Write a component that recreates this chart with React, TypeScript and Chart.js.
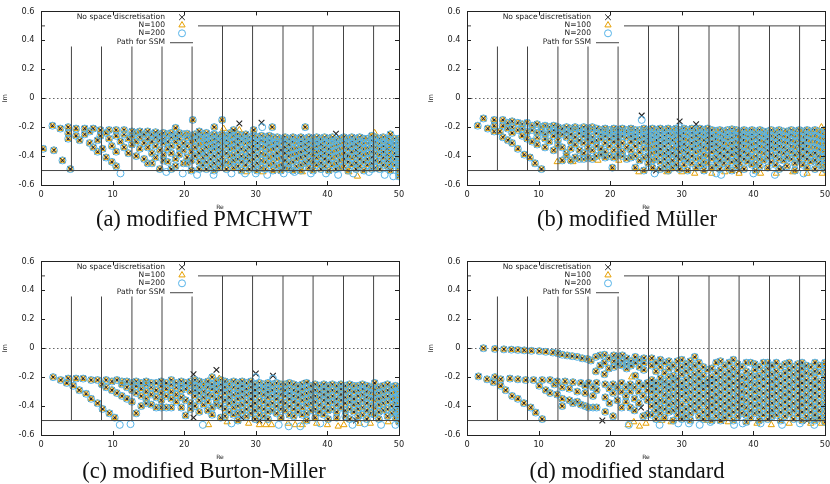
import { useEffect, useRef } from 'react';
import { Chart, registerables } from 'chart.js';
import { drawPoint } from 'chart.js/helpers';

Chart.register(...registerables);

// each column: [Re, Im, Im, ...]
type Col = number[];
type Pt = { x: number; y: number | null };

const xTickValues = [0, 10, 20, 30, 40, 50];
const yTickValues = [-0.6, -0.4, -0.2, 0, 0.2, 0.4, 0.6];
const yTickLabels = ['-0.6', '-0.4', '-0.2', '0', '0.2', '0.4', '0.6'];

const seriesLabels = ['No space discretisation', 'N=100', 'N=200', 'Path for SSM'];
const captions = ['(a) modified PMCHWT', '(b) modified Müller', '(c) modified Burton-Miller', '(d) modified standard'];

// SSM integration path
const pathRe = [4.25, 8.45, 12.7, 16.9, 21.1, 25.35, 29.55, 33.8, 38.0, 42.25, 46.45];
const pathTop = [0.36, 0.36, 0.36, 0.36, 0.36, 0.5, 0.5, 0.5, 0.5, 0.5, 0.5];
const pathBottom = -0.5;
const pathCeil = 0.5;

// ---------- (a) modified PMCHWT ----------
const aLeft: Col[] = [
  [0.3, -0.35], [1.6, -0.19], [1.8, -0.36], [2.7, -0.21], [3.0, -0.43],
  [3.8, -0.2, -0.24, -0.28], [4.1, -0.49], [4.9, -0.21, -0.26], [5.4, -0.29],
  [6.1, -0.21, -0.25], [6.8, -0.23, -0.31], [7.3, -0.21, -0.34], [7.9, -0.29, -0.37],
  [8.3, -0.22, -0.26], [8.6, -0.35], [9.1, -0.24, -0.41], [9.5, -0.22, -0.28],
  [9.9, -0.33, -0.44], [10.5, -0.22, -0.26, -0.37, -0.47], [11.1, -0.3],
  [11.6, -0.22, -0.25, -0.34], [12.2, -0.28, -0.38], [12.7, -0.23, -0.26, -0.32],
  [13.3, -0.24, -0.3, -0.4], [13.8, -0.23, -0.27, -0.35], [14.4, -0.25, -0.31, -0.42],
  [14.9, -0.23, -0.28, -0.34, -0.45], [15.5, -0.25, -0.3, -0.38, -0.45],
  [16.0, -0.235, -0.27, -0.33, -0.41], [16.6, -0.25, -0.29, -0.36, -0.49],
  [17.1, -0.24, -0.28, -0.31, -0.39, -0.43], [17.7, -0.25, -0.3, -0.35, -0.44],
  [18.2, -0.24, -0.27, -0.33, -0.38, -0.49], [18.8, -0.205, -0.26, -0.3, -0.42, -0.47],
  [19.3, -0.24, -0.28, -0.34, -0.39], [19.9, -0.25, -0.31, -0.36, -0.45],
  [20.4, -0.245, -0.27, -0.33, -0.41, -0.45], [21.0, -0.26, -0.3, -0.37, -0.43, -0.5],
  [21.2, -0.15], [21.5, -0.25, -0.29, -0.34, -0.4], [22.1, -0.23, -0.27, -0.32, -0.38, -0.44, -0.49],
];
const aRight: Col[] = [
  [22.6, -0.25, -0.28, -0.31, -0.36, -0.41, -0.46],
  [23.1, -0.24, -0.27, -0.3, -0.34, -0.39, -0.44, -0.49],
  [23.7, -0.26, -0.29, -0.33, -0.37, -0.42, -0.47],
  [24.2, -0.2, -0.25, -0.28, -0.32, -0.35, -0.4, -0.45, -0.5],
  [24.8, -0.26, -0.3, -0.34, -0.38, -0.43, -0.48],
  [25.3, -0.15, -0.25, -0.28, -0.31, -0.36, -0.41, -0.46],
  [25.9, -0.26, -0.29, -0.33, -0.38, -0.44, -0.49],
  [26.4, -0.24, -0.27, -0.31, -0.35, -0.4, -0.45],
  [26.9, -0.22, -0.26, -0.3, -0.34, -0.39, -0.43, -0.48],
  [27.5, -0.25, -0.28, -0.32, -0.37, -0.42, -0.47],
  [28.0, -0.26, -0.3, -0.35, -0.4, -0.44, -0.5],
  [28.6, -0.25, -0.28, -0.31, -0.36, -0.41, -0.46],
  [29.1, -0.27, -0.3, -0.34, -0.39, -0.43, -0.49],
  [29.7, -0.22, -0.26, -0.29, -0.33, -0.37, -0.42, -0.47],
  [30.2, -0.27, -0.31, -0.35, -0.4, -0.45, -0.5],
  [30.8, -0.26, -0.29, -0.33, -0.38, -0.43, -0.48],
  [31.3, -0.27, -0.3, -0.34, -0.39, -0.44, -0.49],
  [31.9, -0.26, -0.29, -0.32, -0.36, -0.41, -0.46],
  [32.3, -0.2],
  [32.4, -0.27, -0.31, -0.35, -0.4, -0.45, -0.5],
  [33.0, -0.27, -0.3, -0.33, -0.38, -0.42, -0.47],
  [33.5, -0.28, -0.31, -0.36, -0.41, -0.46, -0.5],
  [34.1, -0.27, -0.3, -0.34, -0.38, -0.43, -0.48],
  [34.6, -0.28, -0.32, -0.36, -0.4, -0.45, -0.49],
  [35.2, -0.27, -0.3, -0.35, -0.39, -0.44, -0.5],
  [35.7, -0.28, -0.31, -0.34, -0.38, -0.42, -0.47],
  [36.3, -0.27, -0.3, -0.33, -0.37, -0.41, -0.46, -0.5],
  [36.9, -0.2, -0.28, -0.32, -0.36, -0.4, -0.45],
  [37.4, -0.27, -0.3, -0.34, -0.38, -0.43, -0.48],
  [38.0, -0.28, -0.31, -0.35, -0.39, -0.44, -0.5],
  [38.5, -0.27, -0.3, -0.33, -0.37, -0.41, -0.46],
  [39.1, -0.28, -0.32, -0.36, -0.4, -0.45, -0.49],
  [39.6, -0.27, -0.3, -0.34, -0.38, -0.42, -0.47],
  [40.2, -0.28, -0.31, -0.35, -0.39, -0.44, -0.5],
  [40.7, -0.27, -0.3, -0.33, -0.37, -0.41, -0.46],
  [41.2, -0.29, -0.32, -0.36, -0.4, -0.45, -0.49],
  [41.8, -0.28, -0.31, -0.35, -0.39, -0.43, -0.48],
  [42.3, -0.27, -0.3, -0.34, -0.38, -0.42, -0.47],
  [42.9, -0.28, -0.31, -0.35, -0.4, -0.44, -0.5],
  [43.4, -0.27, -0.3, -0.33, -0.37, -0.41, -0.46],
  [44.0, -0.28, -0.32, -0.36, -0.4, -0.45, -0.49],
  [44.5, -0.27, -0.3, -0.34, -0.38, -0.42, -0.47],
  [45.1, -0.28, -0.31, -0.35, -0.39, -0.44, -0.5],
  [45.6, -0.28, -0.31, -0.34, -0.38, -0.42, -0.46],
  [46.2, -0.26, -0.29, -0.33, -0.37, -0.41, -0.45, -0.49],
  [46.7, -0.27, -0.3, -0.34, -0.38, -0.43, -0.48],
  [47.3, -0.28, -0.31, -0.35, -0.39, -0.44, -0.49],
  [47.8, -0.27, -0.3, -0.33, -0.37, -0.41, -0.46],
  [48.4, -0.28, -0.31, -0.35, -0.39, -0.43, -0.47],
  [48.8, -0.25, -0.29, -0.33, -0.37, -0.41, -0.45, -0.5],
  [49.4, -0.28, -0.31, -0.34, -0.38, -0.42, -0.46],
  [50.0, -0.28, -0.3, -0.32, -0.34, -0.36, -0.38, -0.4, -0.42, -0.44, -0.46, -0.48, -0.5, -0.52, -0.54],
];
const aCrossOnly: Col[] = [[27.7, -0.175], [30.8, -0.17], [41.2, -0.245], [36.0, -0.39], [40.0, -0.43], [43.0, -0.4], [27.0, -0.23]];
const aTriOnly: Col[] = [[25.5, -0.21], [27.7, -0.22], [43.0, -0.51], [44.2, -0.54], [46.6, -0.24], [36.5, -0.51], [31.0, -0.51], [28.7, -0.51]];
const aCircOnly: Col[] = [
  [11.1, -0.52], [17.5, -0.51], [19.8, -0.52], [21.8, -0.53], [24.1, -0.53], [26.6, -0.52], [28.5, -0.52],
  [30.0, -0.52], [30.9, -0.2], [31.6, -0.53], [33.9, -0.52], [35.4, -0.51], [37.7, -0.52], [39.8, -0.52],
  [41.5, -0.53], [43.6, -0.52], [45.8, -0.51], [48.0, -0.53], [49.2, -0.54],
];

// ---------- (b) modified Müller ----------
const bLeft: Col[] = [
  [1.5, -0.19], [2.3, -0.14], [2.9, -0.21], [3.8, -0.15, -0.19, -0.23], [4.6, -0.23],
  [5.0, -0.15, -0.19, -0.27], [5.7, -0.17, -0.21, -0.29], [6.3, -0.16, -0.2, -0.24, -0.31],
  [7.1, -0.17, -0.22, -0.35], [7.7, -0.18, -0.21, -0.26], [8.0, -0.39], [8.4, -0.17, -0.23, -0.28],
  [8.8, -0.41], [9.1, -0.19, -0.22, -0.3], [9.5, -0.45], [9.8, -0.18, -0.24, -0.27, -0.32],
  [10.4, -0.2, -0.23, -0.49], [10.9, -0.19, -0.25, -0.28, -0.34], [11.5, -0.2, -0.23, -0.3],
  [12.1, -0.19, -0.22, -0.26, -0.36], [12.7, -0.2, -0.24, -0.29, -0.32],
  [13.3, -0.21, -0.25, -0.34, -0.43], [13.9, -0.2, -0.23, -0.27, -0.38, -0.4],
  [14.5, -0.21, -0.25, -0.3, -0.35, -0.43], [15.1, -0.2, -0.22, -0.27, -0.32, -0.41],
  [15.7, -0.21, -0.24, -0.29, -0.36, -0.42], [16.3, -0.2, -0.23, -0.26, -0.31, -0.38, -0.42],
  [16.9, -0.21, -0.25, -0.28, -0.34, -0.41], [17.5, -0.2, -0.22, -0.27, -0.3, -0.36, -0.42],
  [18.1, -0.21, -0.24, -0.29, -0.33, -0.4], [18.7, -0.22, -0.25, -0.28, -0.35, -0.39],
  [19.3, -0.21, -0.23, -0.26, -0.31, -0.37, -0.41], [19.9, -0.22, -0.24, -0.28, -0.33, -0.4],
  [20.3, -0.48], [20.5, -0.21, -0.23, -0.26, -0.3, -0.36, -0.41], [21.1, -0.22, -0.25, -0.28, -0.33, -0.39],
  [21.7, -0.21, -0.23, -0.26, -0.31, -0.37, -0.4], [22.3, -0.22, -0.24, -0.27, -0.34, -0.42],
  [22.9, -0.21, -0.23, -0.26, -0.3, -0.36, -0.41], [23.5, -0.22, -0.25, -0.28, -0.33, -0.4, -0.48],
  [24.1, -0.22, -0.24, -0.27, -0.31, -0.37, -0.43], [24.7, -0.21, -0.23, -0.26, -0.3, -0.35, -0.41, -0.5],
];
const bRight: Col[] = [
  [25.3, -0.22, -0.25, -0.28, -0.31, -0.35, -0.4, -0.45],
  [25.9, -0.21, -0.24, -0.27, -0.3, -0.34, -0.38, -0.43, -0.48],
  [26.4, -0.22, -0.25, -0.29, -0.33, -0.37, -0.42],
  [27.0, -0.21, -0.24, -0.27, -0.31, -0.35, -0.39, -0.44, -0.49],
  [27.6, -0.22, -0.26, -0.29, -0.33, -0.38, -0.42, -0.47],
  [28.1, -0.21, -0.24, -0.28, -0.31, -0.36, -0.4, -0.45, -0.5],
  [28.7, -0.22, -0.25, -0.29, -0.34, -0.38, -0.43, -0.48],
  [29.2, -0.21, -0.24, -0.27, -0.31, -0.35, -0.4, -0.46],
  [29.7, -0.22, -0.26, -0.3, -0.33, -0.37, -0.42, -0.49],
  [30.3, -0.21, -0.24, -0.28, -0.32, -0.36, -0.41, -0.46],
  [30.8, -0.22, -0.25, -0.29, -0.34, -0.38, -0.43, -0.5],
  [31.4, -0.21, -0.24, -0.27, -0.31, -0.35, -0.4, -0.45],
  [32.0, -0.22, -0.26, -0.3, -0.33, -0.37, -0.42, -0.48],
  [32.5, -0.21, -0.24, -0.28, -0.32, -0.36, -0.41, -0.46],
  [33.1, -0.22, -0.25, -0.29, -0.34, -0.39, -0.44, -0.5],
  [33.6, -0.21, -0.24, -0.27, -0.31, -0.35, -0.4, -0.45],
  [34.2, -0.22, -0.26, -0.3, -0.33, -0.37, -0.42, -0.48],
  [34.8, -0.225, -0.25, -0.28, -0.32, -0.36, -0.41, -0.46],
  [35.3, -0.22, -0.26, -0.29, -0.34, -0.38, -0.43, -0.49],
  [35.9, -0.23, -0.27, -0.31, -0.35, -0.4, -0.45],
  [36.4, -0.22, -0.25, -0.28, -0.32, -0.37, -0.42, -0.48],
  [37.0, -0.215, -0.24, -0.27, -0.31, -0.35, -0.39, -0.44, -0.5],
  [37.6, -0.22, -0.26, -0.3, -0.34, -0.38, -0.43, -0.47],
  [38.1, -0.23, -0.27, -0.31, -0.36, -0.4, -0.45],
  [38.7, -0.22, -0.25, -0.29, -0.33, -0.37, -0.42, -0.49],
  [39.2, -0.23, -0.26, -0.3, -0.34, -0.39, -0.44],
  [39.8, -0.22, -0.25, -0.28, -0.32, -0.36, -0.41, -0.46],
  [40.3, -0.23, -0.27, -0.31, -0.35, -0.4, -0.45, -0.5],
  [40.9, -0.22, -0.25, -0.29, -0.33, -0.37, -0.42, -0.47],
  [41.4, -0.23, -0.26, -0.3, -0.34, -0.38, -0.43],
  [42.0, -0.23, -0.25, -0.28, -0.32, -0.36, -0.41, -0.48],
  [42.5, -0.22, -0.26, -0.3, -0.34, -0.39, -0.44],
  [43.1, -0.23, -0.27, -0.31, -0.35, -0.4, -0.46],
  [43.6, -0.22, -0.25, -0.29, -0.33, -0.37, -0.42, -0.49],
  [44.2, -0.23, -0.26, -0.3, -0.34, -0.38, -0.43],
  [44.7, -0.23, -0.27, -0.31, -0.36, -0.41, -0.47],
  [45.3, -0.22, -0.25, -0.29, -0.33, -0.37, -0.42],
  [45.8, -0.23, -0.26, -0.3, -0.34, -0.39, -0.45, -0.5],
  [46.4, -0.22, -0.26, -0.29, -0.33, -0.38, -0.43],
  [46.9, -0.23, -0.27, -0.31, -0.35, -0.4, -0.46],
  [47.5, -0.22, -0.25, -0.29, -0.33, -0.37, -0.42, -0.48],
  [48.0, -0.23, -0.26, -0.3, -0.34, -0.39, -0.44],
  [48.6, -0.22, -0.26, -0.3, -0.34, -0.38, -0.43, -0.49],
  [49.1, -0.23, -0.27, -0.31, -0.35, -0.4, -0.45],
  [49.6, -0.24, -0.28, -0.32, -0.36, -0.41, -0.47],
  [50.0, -0.22, -0.25, -0.28, -0.31, -0.34, -0.37, -0.4, -0.43, -0.46, -0.49],
];
const bCrossOnly: Col[] = [[24.4, -0.12], [29.7, -0.16], [32.0, -0.18], [26.4, -0.5], [33.0, -0.47], [38.0, -0.5], [44.0, -0.48]];
const bTriOnly: Col[] = [
  [12.6, -0.44], [14.8, -0.44], [18.3, -0.43], [21.2, -0.43], [24.0, -0.51], [27.9, -0.51], [30.0, -0.51],
  [31.8, -0.52], [34.2, -0.52], [36.0, -0.51], [38.0, -0.52], [41.0, -0.52], [43.2, -0.52], [45.5, -0.51],
  [47.5, -0.52], [49.6, -0.52], [49.5, -0.2],
];
const bCircOnly: Col[] = [[24.4, -0.15], [26.2, -0.52], [29.7, -0.2], [34.8, -0.52], [35.5, -0.53], [40.0, -0.52], [43.0, -0.53], [47.0, -0.52]];

// ---------- (c) modified Burton-Miller ----------
const cLeft: Col[] = [
  [1.7, -0.2], [2.75, -0.22], [3.6, -0.24], [3.8, -0.21], [4.5, -0.26], [4.9, -0.21], [5.35, -0.29],
  [5.9, -0.21], [6.3, -0.315], [7.0, -0.22, -0.35], [7.9, -0.22, -0.38], [8.5, -0.25], [8.6, -0.42],
  [9.1, -0.22, -0.27], [9.55, -0.45], [9.9, -0.23, -0.29], [10.3, -0.48], [10.6, -0.22, -0.31],
  [11.3, -0.23, -0.25, -0.33], [12.0, -0.23, -0.27, -0.35], [12.7, -0.24, -0.29, -0.37],
  [13.3, -0.23, -0.26, -0.31, -0.45], [14.0, -0.24, -0.28, -0.33, -0.4], [14.7, -0.23, -0.25, -0.3, -0.35, -0.38],
  [15.4, -0.24, -0.27, -0.32, -0.39], [16.1, -0.24, -0.29, -0.34, -0.41], [16.8, -0.23, -0.26, -0.31, -0.36, -0.41],
  [17.5, -0.24, -0.28, -0.33, -0.41], [18.2, -0.22, -0.25, -0.3, -0.35, -0.41], [18.9, -0.24, -0.27, -0.32, -0.37],
  [19.6, -0.23, -0.26, -0.29, -0.34, -0.41], [20.2, -0.24, -0.28, -0.36, -0.465], [20.9, -0.23, -0.25, -0.3, -0.38, -0.42],
  [21.5, -0.22, -0.26, -0.29, -0.33, -0.4], [22.1, -0.23, -0.27, -0.31, -0.36, -0.44], [22.7, -0.24, -0.26, -0.3, -0.34, -0.39],
  [23.3, -0.23, -0.27, -0.32, -0.37, -0.43], [23.9, -0.2, -0.25, -0.28, -0.33, -0.41, -0.46],
  [24.5, -0.23, -0.26, -0.3, -0.35, -0.39], [25.1, -0.22, -0.25, -0.29, -0.34, -0.4, -0.48],
];
const cRight: Col[] = [
  [25.7, -0.23, -0.27, -0.31, -0.36, -0.42, -0.47],
  [26.3, -0.24, -0.26, -0.3, -0.34, -0.38, -0.44],
  [26.9, -0.23, -0.27, -0.32, -0.37, -0.41, -0.46],
  [27.5, -0.24, -0.28, -0.31, -0.35, -0.4, -0.45, -0.5],
  [28.1, -0.23, -0.26, -0.3, -0.34, -0.39, -0.44],
  [28.7, -0.24, -0.28, -0.32, -0.37, -0.42, -0.47],
  [29.3, -0.23, -0.27, -0.31, -0.35, -0.4, -0.45],
  [29.9, -0.25, -0.29, -0.33, -0.38, -0.43, -0.49],
  [30.5, -0.24, -0.27, -0.31, -0.36, -0.41, -0.46],
  [31.1, -0.25, -0.28, -0.32, -0.37, -0.42, -0.47],
  [31.7, -0.24, -0.27, -0.3, -0.34, -0.39, -0.44, -0.49],
  [32.3, -0.25, -0.29, -0.33, -0.38, -0.43],
  [32.9, -0.24, -0.28, -0.31, -0.35, -0.4, -0.45],
  [33.5, -0.25, -0.28, -0.32, -0.37, -0.42, -0.48],
  [34.1, -0.25, -0.29, -0.33, -0.38, -0.43],
  [34.7, -0.24, -0.28, -0.31, -0.35, -0.4, -0.46],
  [35.3, -0.25, -0.29, -0.33, -0.37, -0.42, -0.47],
  [35.9, -0.26, -0.3, -0.34, -0.39, -0.44],
  [36.5, -0.25, -0.28, -0.32, -0.36, -0.41, -0.46],
  [37.1, -0.24, -0.27, -0.31, -0.35, -0.39, -0.45, -0.5],
  [37.7, -0.26, -0.3, -0.34, -0.38, -0.43],
  [38.3, -0.25, -0.29, -0.33, -0.37, -0.42, -0.48],
  [38.9, -0.26, -0.3, -0.34, -0.39, -0.44],
  [39.5, -0.25, -0.28, -0.32, -0.36, -0.41, -0.46],
  [40.1, -0.26, -0.3, -0.34, -0.38, -0.43, -0.49],
  [40.7, -0.25, -0.29, -0.33, -0.37, -0.42],
  [41.3, -0.26, -0.3, -0.35, -0.39, -0.44, -0.48],
  [41.9, -0.25, -0.28, -0.32, -0.36, -0.41],
  [42.5, -0.26, -0.3, -0.34, -0.38, -0.43, -0.47],
  [43.1, -0.25, -0.29, -0.33, -0.37, -0.42, -0.49],
  [43.7, -0.26, -0.3, -0.35, -0.39, -0.44],
  [44.3, -0.26, -0.29, -0.33, -0.38, -0.42, -0.47],
  [44.9, -0.25, -0.28, -0.32, -0.36, -0.41, -0.46],
  [45.5, -0.26, -0.3, -0.34, -0.38, -0.43, -0.49],
  [46.1, -0.27, -0.31, -0.35, -0.4, -0.45],
  [46.6, -0.24, -0.28, -0.32, -0.36, -0.41, -0.46],
  [47.2, -0.27, -0.31, -0.35, -0.39, -0.44, -0.49],
  [47.8, -0.26, -0.3, -0.34, -0.38, -0.43],
  [48.4, -0.25, -0.29, -0.33, -0.37, -0.42, -0.47],
  [49.0, -0.27, -0.31, -0.35, -0.4, -0.45],
  [49.5, -0.26, -0.3, -0.34, -0.38, -0.43, -0.48],
  [50.0, -0.27, -0.29, -0.31, -0.33, -0.35, -0.37, -0.39, -0.41, -0.43, -0.45, -0.47, -0.49, -0.51],
];
const cCrossOnly: Col[] = [[21.3, -0.18], [21.3, -0.48], [24.5, -0.15], [30.0, -0.175], [32.4, -0.19], [37.0, -0.24], [28.0, -0.48], [30.5, -0.5], [38.5, -0.45], [44.0, -0.5]];
const cTriOnly: Col[] = [
  [23.4, -0.53], [24.9, -0.21], [26.0, -0.51], [29.0, -0.52], [30.5, -0.53], [31.4, -0.53], [32.2, -0.53],
  [34.5, -0.52], [35.5, -0.53], [36.5, -0.53], [38.5, -0.52], [40.0, -0.53], [41.5, -0.54], [42.3, -0.53],
  [44.5, -0.52], [46.0, -0.52], [48.5, -0.51],
];
const cCircOnly: Col[] = [
  [11.0, -0.53], [12.5, -0.525], [22.6, -0.53], [26.6, -0.52], [30.0, -0.2], [32.4, -0.21], [33.2, -0.53],
  [34.6, -0.54], [36.2, -0.54], [39.0, -0.52], [43.5, -0.53], [45.2, -0.52], [47.5, -0.53], [49.5, -0.53],
];

// ---------- (d) modified standard ----------
const dTop: Col[] = [
  [2.3, 0.0], [3.9, -0.005], [5.15, -0.008], [6.2, -0.01], [7.1, -0.012], [8.0, -0.015], [9.0, -0.018],
  [10.1, -0.02], [11.0, -0.025], [12.0, -0.03], [12.7, -0.035], [13.3, -0.045], [14.0, -0.05], [14.7, -0.055],
  [15.4, -0.06], [16.1, -0.07], [16.8, -0.075], [17.3, -0.085], [18.0, -0.06, -0.16], [18.6, -0.05, -0.12],
  [19.2, -0.045, -0.1, -0.18], [19.8, -0.07, -0.14], [20.5, -0.05, -0.09, -0.13], [21.1, -0.06, -0.11],
  [21.7, -0.05, -0.09, -0.12], [22.3, -0.07, -0.11, -0.14], [22.9, -0.09, -0.12], [23.5, -0.06, -0.1, -0.19],
  [24.1, -0.08, -0.13], [24.7, -0.07, -0.1, -0.15],
];
const dLow: Col[] = [
  [1.6, -0.195], [2.8, -0.215], [3.7, -0.235], [3.9, -0.2], [4.7, -0.215, -0.26], [5.4, -0.29], [6.0, -0.21],
  [6.3, -0.33], [7.1, -0.215, -0.35], [7.95, -0.38], [8.2, -0.22], [8.9, -0.41], [9.3, -0.22], [9.6, -0.445],
  [10.1, -0.26], [10.5, -0.22, -0.49], [11.0, -0.29], [11.6, -0.22, -0.31], [12.2, -0.25], [12.6, -0.23, -0.32],
  [13.3, -0.27, -0.35, -0.4], [13.7, -0.23], [14.3, -0.28, -0.36], [14.8, -0.235, -0.38], [15.4, -0.3, -0.37],
  [15.9, -0.24, -0.39], [16.5, -0.26, -0.31, -0.4], [17.0, -0.24, -0.41], [17.6, -0.27, -0.33, -0.41],
  [18.1, -0.24, -0.29, -0.41], [19.3, -0.25, -0.34, -0.44], [19.9, -0.28, -0.38], [20.4, -0.25, -0.31, -0.47],
  [21.0, -0.27, -0.36], [21.6, -0.24, -0.3, -0.41], [22.2, -0.27, -0.33, -0.37], [22.8, -0.25, -0.3, -0.41],
  [23.4, -0.27, -0.35, -0.43], [24.0, -0.24, -0.3, -0.38], [24.6, -0.26, -0.33, -0.47], [25.2, -0.24, -0.29, -0.36, -0.46],
];
const dRight: Col[] = [
  [25.8, -0.07, -0.12, -0.22, -0.26, -0.3, -0.35, -0.4, -0.46],
  [26.4, -0.1, -0.16, -0.24, -0.28, -0.33, -0.38, -0.43, -0.49],
  [27.0, -0.08, -0.13, -0.21, -0.25, -0.3, -0.36, -0.41, -0.45],
  [27.6, -0.1, -0.17, -0.23, -0.27, -0.32, -0.37, -0.42, -0.48],
  [28.2, -0.09, -0.14, -0.2, -0.25, -0.29, -0.34, -0.39, -0.44],
  [28.8, -0.12, -0.19, -0.23, -0.28, -0.33, -0.38, -0.43, -0.5],
  [29.4, -0.09, -0.15, -0.21, -0.26, -0.31, -0.36, -0.41, -0.46],
  [30.0, -0.08, -0.13, -0.18, -0.24, -0.28, -0.33, -0.39, -0.44, -0.49],
  [30.6, -0.11, -0.16, -0.22, -0.27, -0.31, -0.36, -0.42, -0.47],
  [31.2, -0.09, -0.14, -0.2, -0.25, -0.3, -0.35, -0.4, -0.45, -0.5],
  [31.8, -0.06, -0.12, -0.18, -0.23, -0.28, -0.33, -0.38, -0.43],
  [32.4, -0.1, -0.16, -0.21, -0.26, -0.31, -0.36, -0.41, -0.47],
  [33.0, -0.13, -0.19, -0.24, -0.28, -0.33, -0.38, -0.44, -0.49],
  [33.6, -0.15, -0.22, -0.26, -0.31, -0.36, -0.41, -0.46],
  [34.2, -0.14, -0.2, -0.24, -0.29, -0.34, -0.39, -0.44, -0.5],
  [34.8, -0.1, -0.17, -0.22, -0.27, -0.32, -0.37, -0.42, -0.47],
  [35.4, -0.09, -0.15, -0.2, -0.25, -0.3, -0.35, -0.4, -0.45, -0.5],
  [36.0, -0.12, -0.18, -0.23, -0.28, -0.33, -0.38, -0.43, -0.48],
  [36.6, -0.1, -0.16, -0.21, -0.26, -0.31, -0.36, -0.41, -0.46],
  [37.2, -0.08, -0.14, -0.19, -0.24, -0.29, -0.34, -0.39, -0.44, -0.5],
  [37.8, -0.11, -0.17, -0.22, -0.27, -0.32, -0.37, -0.42, -0.47],
  [38.4, -0.13, -0.2, -0.25, -0.3, -0.35, -0.4, -0.45],
  [39.0, -0.1, -0.16, -0.21, -0.26, -0.31, -0.36, -0.41, -0.46, -0.51],
  [39.6, -0.1, -0.18, -0.23, -0.28, -0.33, -0.38, -0.43, -0.48],
  [40.2, -0.11, -0.15, -0.2, -0.25, -0.3, -0.35, -0.4, -0.45],
  [40.8, -0.13, -0.19, -0.24, -0.29, -0.34, -0.39, -0.44, -0.5],
  [41.4, -0.1, -0.16, -0.21, -0.26, -0.31, -0.36, -0.41, -0.46],
  [42.0, -0.1, -0.14, -0.19, -0.24, -0.29, -0.34, -0.39, -0.44, -0.49],
  [42.6, -0.12, -0.18, -0.23, -0.28, -0.33, -0.38, -0.43, -0.47],
  [43.2, -0.1, -0.16, -0.21, -0.26, -0.31, -0.36, -0.41, -0.46],
  [43.8, -0.13, -0.19, -0.24, -0.29, -0.34, -0.39, -0.44, -0.5],
  [44.4, -0.11, -0.17, -0.22, -0.27, -0.32, -0.37, -0.42, -0.47],
  [45.0, -0.1, -0.15, -0.2, -0.25, -0.3, -0.35, -0.4, -0.45],
  [45.6, -0.13, -0.18, -0.23, -0.28, -0.33, -0.38, -0.43, -0.49],
  [46.2, -0.11, -0.16, -0.21, -0.26, -0.31, -0.36, -0.41, -0.46],
  [46.8, -0.1, -0.14, -0.19, -0.24, -0.29, -0.34, -0.39, -0.44, -0.5],
  [47.4, -0.12, -0.17, -0.22, -0.27, -0.32, -0.37, -0.42, -0.47],
  [48.0, -0.13, -0.18, -0.24, -0.29, -0.34, -0.39, -0.44, -0.49],
  [48.6, -0.1, -0.16, -0.21, -0.26, -0.31, -0.36, -0.41, -0.46, -0.5],
  [49.2, -0.12, -0.17, -0.23, -0.28, -0.33, -0.38, -0.43, -0.48],
  [50.0, -0.1, -0.12, -0.15, -0.18, -0.21, -0.24, -0.27, -0.3, -0.33, -0.36, -0.39, -0.42, -0.45, -0.48, -0.51],
];
const dCrossOnly: Col[] = [[18.9, -0.5], [24.3, -0.41], [25.5, -0.45], [30.0, -0.47], [35.5, -0.5], [41.0, -0.48], [47.5, -0.5], [49.0, -0.49]];
const dTriOnly: Col[] = [
  [22.5, -0.53], [23.0, -0.2], [23.3, -0.51], [24.1, -0.54], [25.0, -0.52], [27.0, -0.25], [27.2, -0.5],
  [28.5, -0.51], [33.5, -0.5], [36.5, -0.51], [40.5, -0.52], [42.5, -0.53], [45.0, -0.52], [48.0, -0.52], [49.5, -0.52],
];
const dCircOnly: Col[] = [
  [22.6, -0.53], [26.9, -0.53], [29.5, -0.52], [31.0, -0.52], [32.5, -0.53], [34.0, -0.51], [37.3, -0.53],
  [38.5, -0.52], [41.0, -0.52], [44.0, -0.53], [46.5, -0.52], [48.5, -0.53],
];

const toPoints = (...groups: Col[][]): Pt[] =>
  groups.flat().flatMap(([re, ...ims]) => ims.map((im) => ({ x: re, y: im })));

const pathPoints = (): Pt[] => {
  const pts: Pt[] = [
    { x: 0, y: pathBottom }, { x: 50, y: pathBottom }, { x: 50, y: null },
    { x: 0, y: pathCeil }, { x: 50, y: pathCeil }, { x: 50, y: null },
  ];
  pathRe.forEach((re, i) => {
    pts.push({ x: re, y: pathBottom }, { x: re, y: pathTop[i] }, { x: re, y: null });
  });
  return pts;
};

const panelSeries = [
  { cross: toPoints(aLeft, aRight, aCrossOnly), tri: toPoints(aLeft, aRight, aTriOnly), circ: toPoints(aLeft, aRight, aCircOnly) },
  { cross: toPoints(bLeft, bRight, bCrossOnly), tri: toPoints(bLeft, bRight, bTriOnly), circ: toPoints(bLeft, bRight, bCircOnly) },
  { cross: toPoints(cLeft, cRight, cCrossOnly), tri: toPoints(cLeft, cRight, cTriOnly), circ: toPoints(cLeft, cRight, cCircOnly) },
  { cross: toPoints(dTop, dLow, dRight, dCrossOnly), tri: toPoints(dTop, dLow, dRight, dTriOnly), circ: toPoints(dTop, dLow, dRight, dCircOnly) },
];

// layout
const panelLeft = [0, 425.7, 0, 425.7];
const panelTop = [0, 0, 249.5, 249.5];
const captionCenter = [204, 627, 204, 627];
const captionTop = [208, 208, 460, 460];
const CW = 415;
const CH = 214;

const SANS = '"DejaVu Sans", sans-serif';
const INK = '#222';
const legendRows = [5.8, 13.7, 21.9, 30.8];

const gnuplotLook = {
  id: 'gnuplotLook',
  beforeDatasetsDraw(chart: any) {
    const { ctx, chartArea: { left, right }, scales: { y } } = chart;
    const y0 = Math.round(y.getPixelForValue(0)) + 0.5;
    ctx.save();
    ctx.strokeStyle = '#666';
    ctx.lineWidth = 1;
    ctx.setLineDash([1.5, 2.5]);
    ctx.beginPath();
    ctx.moveTo(left, y0);
    ctx.lineTo(right, y0);
    ctx.stroke();
    ctx.restore();
  },
  afterDatasetsDraw(chart: any) {
    const { ctx, chartArea: { left, right, top, bottom }, scales: { x, y } } = chart;
    ctx.save();
    // key box
    ctx.fillStyle = '#fff';
    ctx.fillRect(left + 4, top + 1, 153, 34);
    ctx.font = `7.6px ${SANS}`;
    ctx.textAlign = 'right';
    ctx.textBaseline = 'middle';
    chart.data.datasets.forEach((ds: any, i: number) => {
      const ly = top + legendRows[i];
      ctx.fillStyle = INK;
      ctx.fillText(ds.label, left + 124, ly);
      if (ds.showLine) {
        ctx.strokeStyle = ds.borderColor;
        ctx.lineWidth = 1;
        ctx.beginPath();
        ctx.moveTo(left + 129, ly + 0.5);
        ctx.lineTo(left + 152, ly + 0.5);
        ctx.stroke();
      } else {
        ctx.strokeStyle = ds.pointBorderColor;
        ctx.fillStyle = 'rgba(0,0,0,0)';
        ctx.lineWidth = 1;
        drawPoint(ctx, { pointStyle: ds.pointStyle, radius: ds.pointRadius, borderWidth: 1, rotation: 0 }, left + 141, ly);
      }
    });
    // border and inward ticks
    ctx.strokeStyle = INK;
    ctx.lineWidth = 1;
    ctx.strokeRect(Math.round(left) + 0.5, Math.round(top) + 0.5, Math.round(right - left), Math.round(bottom - top));
    ctx.beginPath();
    xTickValues.forEach((v) => {
      const px = Math.round(x.getPixelForValue(v)) + 0.5;
      ctx.moveTo(px, bottom); ctx.lineTo(px, bottom - 4);
      ctx.moveTo(px, top); ctx.lineTo(px, top + 4);
    });
    yTickValues.forEach((v) => {
      const py = Math.round(y.getPixelForValue(v)) + 0.5;
      ctx.moveTo(left, py); ctx.lineTo(left + 4, py);
      ctx.moveTo(right, py); ctx.lineTo(right - 4, py);
    });
    ctx.stroke();
    ctx.restore();
  },
};

function Panel({ idx }: { idx: number }) {
  const canvasRef = useRef<HTMLCanvasElement>(null);

  useEffect(() => {
    const canvas = canvasRef.current;
    if (!canvas) return;
    const s = panelSeries[idx];
    const chart = new Chart(canvas, {
      type: 'scatter',
      data: {
        datasets: [
          {
            label: seriesLabels[0], data: s.cross, order: 3,
            pointStyle: 'crossRot', pointRadius: 4, pointBorderWidth: 1.1,
            pointBorderColor: '#222', pointBackgroundColor: 'rgba(0,0,0,0)', borderColor: '#222',
          },
          {
            label: seriesLabels[1], data: s.tri, order: 2,
            pointStyle: 'triangle', pointRadius: 3.6, pointBorderWidth: 1,
            pointBorderColor: '#E69F00', pointBackgroundColor: 'rgba(0,0,0,0)', borderColor: '#E69F00',
          },
          {
            label: seriesLabels[2], data: s.circ, order: 1,
            pointStyle: 'circle', pointRadius: 3.5, pointBorderWidth: 1,
            pointBorderColor: '#56B4E9', pointBackgroundColor: 'rgba(0,0,0,0)', borderColor: '#56B4E9',
          },
          {
            label: seriesLabels[3], data: pathPoints(), order: 0,
            showLine: true, spanGaps: false, pointRadius: 0, borderWidth: 1, borderColor: '#444',
          },
        ] as any,
      },
      options: {
        responsive: false,
        animation: false,
        events: [],
        layout: { padding: { left: 0, top: 6.5, right: 16, bottom: 0 } },
        plugins: { legend: { display: false }, tooltip: { enabled: false } },
        scales: {
          x: {
            type: 'linear', min: 0, max: 50,
            afterBuildTicks: (sc: any) => { sc.ticks = xTickValues.map((v) => ({ value: v })); },
            afterFit: (sc: any) => { sc.height = CH - 185; },
            grid: { display: false, drawTicks: false }, border: { display: false },
            ticks: { padding: 5, maxRotation: 0, color: INK, font: { family: SANS, size: 8.2 }, callback: (v: any) => String(v) },
            title: { display: true, text: 'Re', color: INK, font: { family: SANS, size: 6 }, padding: { top: 0, bottom: 3 } },
          },
          y: {
            type: 'linear', min: -0.6, max: 0.6,
            afterBuildTicks: (sc: any) => { sc.ticks = yTickValues.map((v) => ({ value: v })); },
            afterFit: (sc: any) => { sc.width = 41; },
            grid: { display: false, drawTicks: false }, border: { display: false },
            ticks: { padding: 6.5, color: INK, font: { family: SANS, size: 8.2 }, callback: (_v: any, i: number) => yTickLabels[i] },
            title: { display: true, text: 'Im', color: INK, font: { family: SANS, size: 6.6 }, padding: { top: 1, bottom: 0 } },
          },
        },
      },
      plugins: [gnuplotLook],
    });
    return () => chart.destroy();
  }, [idx]);

  return (
    <>
      <canvas
        ref={canvasRef}
        width={CW}
        height={CH}
        style={{ position: 'absolute', left: panelLeft[idx], top: panelTop[idx], width: CW, height: CH }}
      />
      <div
        style={{
          position: 'absolute', left: captionCenter[idx] - 200, top: captionTop[idx], width: 400,
          textAlign: 'center', font: '22.5px/1 "Liberation Serif", serif', color: '#111', whiteSpace: 'nowrap',
        }}
      >
        {captions[idx]}
      </div>
    </>
  );
}

export default function App() {
  return (
    <div style={{ position: 'fixed', left: 0, top: 0, width: 830, height: 484, background: '#fff', overflow: 'hidden' }}>
      {[0, 1, 2, 3].map((i) => <Panel key={i} idx={i} />)}
    </div>
  );
}
